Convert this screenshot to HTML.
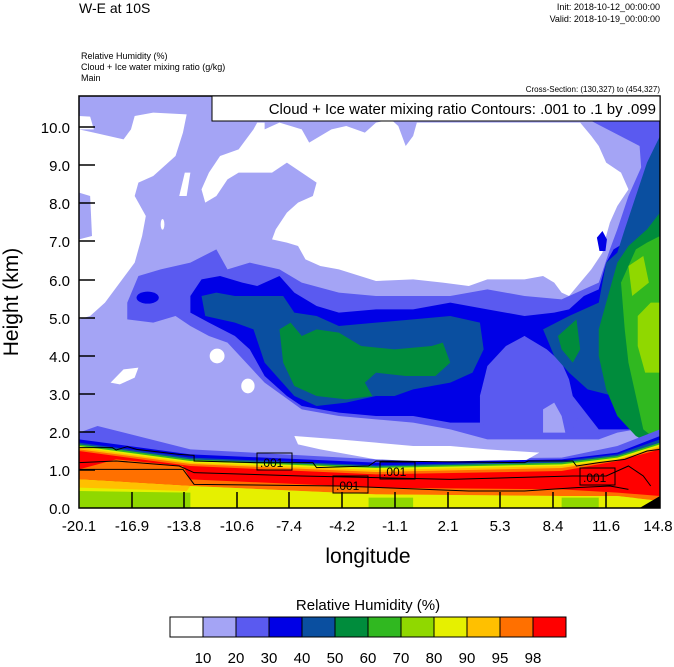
<!DOCTYPE html>
<html><head><meta charset="utf-8"><style>
body{margin:0;background:#fff;width:674px;height:667px;overflow:hidden}
svg{display:block}
text{font-family:"Liberation Sans",sans-serif}
</style></head><body>
<svg width="674" height="667" viewBox="0 0 674 667">
<defs><clipPath id="c"><rect x="79" y="96" width="581" height="412"/></clipPath></defs>
<text x="79" y="13" font-size="14">W-E at 10S</text>
<text x="660" y="10" font-size="9" text-anchor="end">Init: 2018-10-12_00:00:00</text>
<text x="660" y="22" font-size="9" text-anchor="end">Valid: 2018-10-19_00:00:00</text>
<text x="81" y="59" font-size="9">Relative Humidity   (%)</text>
<text x="81" y="70" font-size="9">Cloud + Ice water mixing ratio   (g/kg)</text>
<text x="81" y="81" font-size="9">Main</text>
<text x="660" y="92" font-size="8" text-anchor="end">Cross-Section: (130,327) to (454,327)</text>
<g clip-path="url(#c)">
<g transform="translate(79,96) scale(0.37125,0.33333)">
<rect x="0" y="0" width="1565" height="1236" fill="#a4a4f5"/>
<path d="M0,100 L40,110 L120,130 L140,100 L150,60 L200,50 L290,55 L280,110 L260,180 L200,240 L160,260 L150,300 L180,360 L170,420 L150,500 L110,560 L70,620 L30,660 L0,670 Z" fill="#fff"/>
<path d="M0,290 L30,300 L35,420 L0,430 Z" fill="#a4a4f5"/>
<path d="M0,60 L30,62 L40,100 L0,100 Z" fill="#fff"/>
<path d="M350,230 L380,180 L430,160 L470,100 L480,80 L500,80 L500,100 L540,80 L600,100 L620,140 L650,120 L680,100 L720,90 L770,110 L800,80 L840,70 L860,90 L880,150 L900,120 L910,80 L1350,80 L1380,120 L1400,150 L1420,200 L1460,230 L1480,280 L1450,330 L1430,380 L1420,420 L1410,470 L1380,520 L1350,560 L1320,600 L1300,590 L1280,560 L1250,540 L1200,550 L1100,550 L1050,570 L980,560 L900,550 L800,555 L700,520 L650,510 L610,490 L590,450 L560,440 L520,430 L530,400 L560,350 L590,320 L630,300 L640,260 L600,230 L560,200 L520,230 L480,230 L430,230 L400,250 L370,300 L340,320 L330,280 Z" fill="#fff"/>
<path d="M1380,75 L1470,70 L1565,70 L1565,600 L1450,600 L1470,500 L1500,400 L1520,300 L1510,150 Z" fill="#5a5af0"/>
<path d="M130,620 L160,540 L220,520 L300,500 L370,460 L400,520 L460,500 L540,520 L600,560 L700,590 L800,600 L900,600 L1000,600 L1100,580 L1200,600 L1300,610 L1400,560 L1430,460 L1450,400 L1480,300 L1520,200 L1540,100 L1565,70 L1565,1000 L1500,1000 L1450,1010 L1400,1030 L1300,1030 L1200,1030 L1100,1030 L1000,1000 L900,980 L800,970 L700,960 L600,940 L550,900 L500,860 L450,800 L400,740 L350,720 L300,690 L260,660 L200,680 L130,670 Z" fill="#5a5af0"/>
<ellipse cx="185" cy="605" rx="30" ry="18" fill="#0000e6"/>
<path d="M1395,425 L1410,405 L1422,430 L1418,465 L1402,465 Z" fill="#0000e6"/>
<path d="M300,600 L330,550 L380,540 L440,560 L480,570 L540,540 L580,590 L640,630 L700,650 L800,640 L900,640 L1000,620 L1100,640 L1200,660 L1280,650 L1320,640 L1360,600 L1400,580 L1420,500 L1440,460 L1470,440 L1500,420 L1500,1000 L1400,1000 L1330,900 L1320,850 L1300,800 L1260,760 L1200,720 L1150,760 L1100,820 L1080,900 L1080,980 L1000,980 L900,960 L800,960 L700,950 L600,930 L560,900 L500,840 L460,760 L420,720 L350,680 L300,650 Z" fill="#0000e6"/>
<path d="M1090,990 L1080,900 L1100,810 L1150,750 L1200,720 L1250,760 L1290,820 L1320,880 L1350,950 L1330,1000 L1200,1010 Z" fill="#5a5af0"/>
<path d="M1250,940 L1280,920 L1300,960 L1310,1010 L1250,1010 Z" fill="#a4a4f5"/>
<path d="M330,600 L370,590 L420,600 L480,600 L550,600 L580,650 L640,660 L700,690 L800,680 L900,670 L1000,660 L1080,680 L1090,760 L1060,830 L1000,860 L900,880 L850,900 L800,900 L720,920 L640,930 L580,900 L540,850 L500,800 L470,700 L420,680 L340,660 Z" fill="#0a4fa0"/>
<path d="M1250,700 L1320,660 L1400,620 L1420,500 L1450,470 L1470,400 L1500,300 L1530,200 L1565,120 L1565,1040 L1500,980 L1440,900 L1370,880 L1320,830 L1280,780 Z" fill="#0a4fa0"/>
<path d="M540,700 L570,680 L600,720 L640,700 L700,710 L760,750 L850,760 L950,750 L980,740 L1000,800 L960,840 L880,840 L800,830 L770,860 L790,900 L720,910 L640,900 L580,870 L550,800 Z" fill="#008c3c"/>
<path d="M1290,720 L1340,670 L1350,760 L1330,800 L1300,760 Z" fill="#008c3c"/>
<path d="M1400,700 L1450,500 L1480,450 L1530,400 L1565,350 L1565,1060 L1500,1020 L1450,960 L1420,880 L1400,780 Z" fill="#008c3c"/>
<path d="M1460,560 L1500,460 L1530,440 L1565,420 L1565,1040 L1520,1000 L1500,900 L1480,800 L1470,700 Z" fill="#30b820"/>
<path d="M1480,510 L1520,480 L1535,560 L1490,600 Z M1505,660 L1540,620 L1565,620 L1565,830 L1525,830 L1505,750 Z" fill="#90d800"/>
<ellipse cx="372" cy="780" rx="20" ry="22" fill="#fff"/>
<path d="M85,860 L120,820 L160,815 L150,845 L110,865 Z" fill="#fff"/>
<ellipse cx="455" cy="870" rx="18" ry="22" fill="#fff"/>
<ellipse cx="225" cy="385" rx="5" ry="16" fill="#fff"/>
<path d="M270,300 L285,230 L300,230 L290,300 Z" fill="#fff"/>
<path d="M0,1010 L50,990 L300,1060 L800,1090 L1300,1085 L1450,1050 L1565,1000 L1565,1236 L0,1236 Z" fill="#5a5af0"/>
<path d="M580,1020 L700,1030 L800,1040 L900,1050 L1000,1050 L1100,1060 L1240,1070 L1200,1095 L1000,1100 L800,1090 L650,1060 L590,1045 Z" fill="#fff"/>
<path d="M0,1030 L300,1075 L800,1100 L1300,1090 L1450,1070 L1565,1020 L1565,1236 L0,1236 Z" fill="#0000e6"/>
<path d="M0,1040 L300,1085 L800,1108 L1300,1095 L1450,1075 L1565,1030 L1565,1236 L0,1236 Z" fill="#0a4fa0"/>
<path d="M0,1045 L300,1090 L800,1112 L1300,1100 L1450,1080 L1565,1040 L1565,1236 L0,1236 Z" fill="#30b820"/>
<path d="M0,1050 L300,1095 L800,1116 L1300,1105 L1450,1085 L1565,1045 L1565,1236 L0,1236 Z" fill="#e6f000"/>
<path d="M0,1055 L300,1100 L800,1122 L1300,1110 L1450,1090 L1565,1050 L1565,1236 L0,1236 Z" fill="#ffc000"/>
<path d="M0,1060 L300,1104 L800,1128 L1300,1116 L1450,1092 L1565,1055 L1565,1215 L1450,1200 L1300,1200 L800,1195 L300,1170 L0,1150 Z" fill="#ff7000"/>
<path d="M0,1065 L300,1110 L800,1135 L1300,1125 L1450,1095 L1565,1060 L1565,1200 L1450,1190 L1300,1180 L800,1175 L300,1150 L0,1120 Z" fill="#f00"/>
<path d="M0,1120 L100,1090 L280,1110 L300,1150 L0,1150 Z" fill="#ff7000"/>
<path d="M0,1150 L300,1170 L800,1195 L1300,1200 L1450,1200 L1565,1215 L1565,1236 L0,1236 Z" fill="#e6f000"/>
<path d="M0,1150 L300,1170 L290,1185 L0,1175 Z" fill="#ffc000"/>
<path d="M0,1185 L300,1190 L300,1236 L0,1236 Z" fill="#90d800"/>
<path d="M780,1205 L900,1205 L900,1236 L780,1236 Z M1300,1205 L1400,1205 L1400,1236 L1300,1236 Z" fill="#90d800"/>
<path d="M1510,1236 L1565,1200 L1565,1236 Z" fill="#000"/>
<g fill="none" stroke="#000" stroke-width="1">
<path vector-effect="non-scaling-stroke" d="M0,1055 L90,1055 L100,1062 L130,1052 L155,1060 L270,1075 L310,1078 L310,1095 L480,1100 L630,1100 L640,1115 L780,1110 L800,1095 L1200,1100 L1210,1095 L1330,1095 L1340,1110 L1400,1100 L1470,1090 L1530,1065 L1565,1060"/>
<path vector-effect="non-scaling-stroke" d="M0,1100 L100,1095 L270,1110 L310,1130 L600,1140 L1000,1150 L1330,1140 L1420,1140 L1480,1110 L1520,1140 L1540,1170"/>
<path vector-effect="non-scaling-stroke" d="M0,1120 L280,1120 L310,1165 L700,1170 L1050,1185 L1200,1185 L1340,1175 L1430,1170 L1480,1180"/>
</g>
</g>
<g font-size="12"><rect x="257" y="453" width="35" height="17" fill="none" stroke="#000"/><text x="260" y="467">.001</text>
<rect x="333" y="476" width="35" height="17" fill="none" stroke="#000"/><text x="336" y="490">.001</text>
<rect x="380" y="462" width="35" height="17" fill="none" stroke="#000"/><text x="383" y="476">.001</text>
<rect x="580" y="468" width="35" height="17" fill="none" stroke="#000"/><text x="583" y="482">.001</text></g>
</g>
<rect x="79" y="96" width="581" height="412" fill="none" stroke="#000" stroke-width="1.5"/>
<rect x="212" y="96" width="448" height="25" fill="#fff" stroke="#000"/>
<text x="656" y="114" font-size="15" text-anchor="end">Cloud + Ice water mixing ratio Contours: .001 to .1 by .099</text>
<g stroke="#000" stroke-width="1.5">
<line x1="79" y1="127" x2="95" y2="127"/><line x1="79" y1="165" x2="95" y2="165"/><line x1="79" y1="203" x2="95" y2="203"/><line x1="79" y1="241" x2="95" y2="241"/><line x1="79" y1="280" x2="95" y2="280"/><line x1="79" y1="318" x2="95" y2="318"/><line x1="79" y1="356" x2="95" y2="356"/><line x1="79" y1="394" x2="95" y2="394"/><line x1="79" y1="432" x2="95" y2="432"/><line x1="79" y1="470" x2="95" y2="470"/>
<line x1="132" y1="508" x2="132" y2="492"/><line x1="184" y1="508" x2="184" y2="492"/><line x1="237" y1="508" x2="237" y2="492"/><line x1="289" y1="508" x2="289" y2="492"/><line x1="342" y1="508" x2="342" y2="492"/><line x1="395" y1="508" x2="395" y2="492"/><line x1="448" y1="508" x2="448" y2="492"/><line x1="500" y1="508" x2="500" y2="492"/><line x1="553" y1="508" x2="553" y2="492"/><line x1="606" y1="508" x2="606" y2="492"/>
</g>
<g font-size="15" text-anchor="end">
<text x="70" y="133">10.0</text><text x="70" y="171">9.0</text><text x="70" y="209">8.0</text><text x="70" y="247">7.0</text><text x="70" y="286">6.0</text><text x="70" y="324">5.0</text><text x="70" y="362">4.0</text><text x="70" y="400">3.0</text><text x="70" y="438">2.0</text><text x="70" y="476">1.0</text><text x="70" y="514">0.0</text>
</g>
<g font-size="15" text-anchor="middle">
<text x="79" y="531">-20.1</text><text x="132" y="531">-16.9</text><text x="184" y="531">-13.8</text><text x="237" y="531">-10.6</text><text x="289" y="531">-7.4</text><text x="342" y="531">-4.2</text><text x="395" y="531">-1.1</text><text x="448" y="531">2.1</text><text x="500" y="531">5.3</text><text x="553" y="531">8.4</text><text x="606" y="531">11.6</text><text x="658" y="531">14.8</text>
</g>
<text x="368" y="563" font-size="21" text-anchor="middle">longitude</text>
<text transform="translate(18,302) rotate(-90)" font-size="21" text-anchor="middle">Height (km)</text>
<text x="368" y="610" font-size="15" text-anchor="middle">Relative Humidity  (%)</text>
<g stroke="#000" stroke-width="1">
<rect x="170" y="617" width="33" height="20" fill="#fff"/><rect x="203" y="617" width="33" height="20" fill="#a4a4f5"/><rect x="236" y="617" width="33" height="20" fill="#5a5af0"/><rect x="269" y="617" width="33" height="20" fill="#0000e6"/><rect x="302" y="617" width="33" height="20" fill="#0a4fa0"/><rect x="335" y="617" width="33" height="20" fill="#008c3c"/><rect x="368" y="617" width="33" height="20" fill="#30b820"/><rect x="401" y="617" width="33" height="20" fill="#90d800"/><rect x="434" y="617" width="33" height="20" fill="#e6f000"/><rect x="467" y="617" width="33" height="20" fill="#ffc000"/><rect x="500" y="617" width="33" height="20" fill="#ff7000"/><rect x="533" y="617" width="33" height="20" fill="#f00"/>
</g>
<g font-size="15" text-anchor="middle">
<text x="203" y="663">10</text><text x="236" y="663">20</text><text x="269" y="663">30</text><text x="302" y="663">40</text><text x="335" y="663">50</text><text x="368" y="663">60</text><text x="401" y="663">70</text><text x="434" y="663">80</text><text x="467" y="663">90</text><text x="500" y="663">95</text><text x="533" y="663">98</text>
</g>
</svg>
</body></html>
